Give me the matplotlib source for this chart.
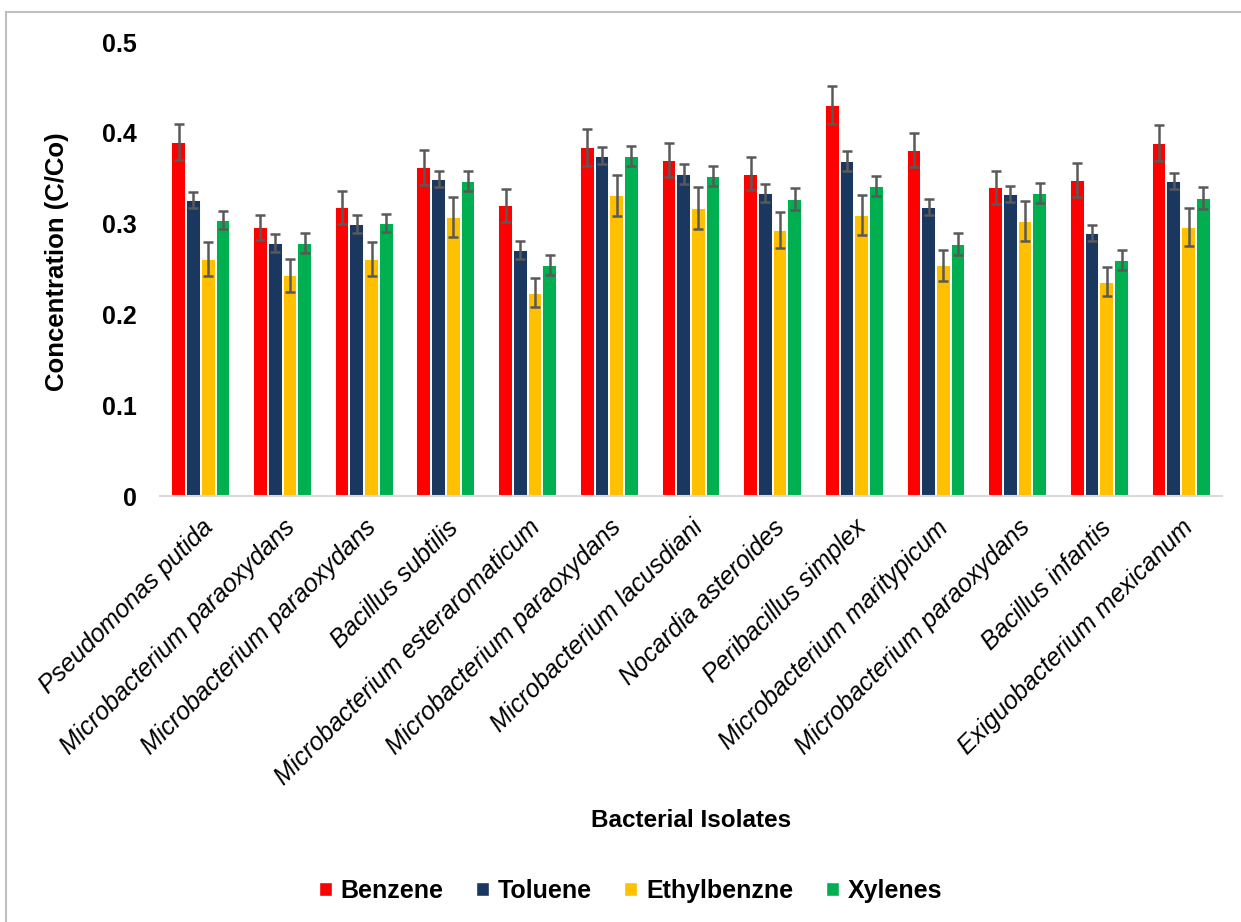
import matplotlib
matplotlib.use("Agg")
import matplotlib.pyplot as plt
import numpy as np
from matplotlib.lines import Line2D

isolates = [
    "Pseudomonas putida",
    "Microbacterium paraoxydans",
    "Microbacterium paraoxydans",
    "Bacillus subtilis",
    "Microbacterium esteraromaticum",
    "Microbacterium paraoxydans",
    "Microbacterium lacusdiani",
    "Nocardia asteroides",
    "Peribacillus simplex",
    "Microbacterium maritypicum",
    "Microbacterium paraoxydans",
    "Bacillus infantis",
    "Exiguobacterium mexicanum",
]

series_names = ["Benzene", "Toluene", "Ethylbenzne", "Xylenes"]

benzene = [0.390, 0.296, 0.318, 0.362, 0.320, 0.384, 0.370, 0.355, 0.431, 0.381, 0.340, 0.348, 0.389]
toluene = [0.326, 0.279, 0.300, 0.349, 0.271, 0.375, 0.355, 0.334, 0.369, 0.318, 0.333, 0.290, 0.347]
ethylbenzne = [0.261, 0.243, 0.261, 0.307, 0.224, 0.331, 0.317, 0.293, 0.309, 0.254, 0.303, 0.236, 0.296]
xylenes = [0.304, 0.279, 0.301, 0.347, 0.254, 0.375, 0.352, 0.327, 0.341, 0.278, 0.334, 0.260, 0.328]

benzene_err = [0.020, 0.014, 0.018, 0.019, 0.018, 0.020, 0.019, 0.018, 0.021, 0.019, 0.018, 0.019, 0.020]
toluene_err = [0.009, 0.010, 0.010, 0.009, 0.010, 0.009, 0.011, 0.010, 0.011, 0.009, 0.009, 0.009, 0.009]
ethylbenzne_err = [0.019, 0.018, 0.019, 0.022, 0.016, 0.023, 0.023, 0.020, 0.022, 0.017, 0.022, 0.016, 0.021]
xylenes_err = [0.010, 0.011, 0.010, 0.011, 0.011, 0.011, 0.011, 0.012, 0.011, 0.012, 0.011, 0.011, 0.012]

colors = ["#FF0000", "#1A375F", "#FFC000", "#00B050"]

values = [benzene, toluene, ethylbenzne, xylenes]
errors = [benzene_err, toluene_err, ethylbenzne_err, xylenes_err]

plt.rcParams["font.family"] = ["Liberation Sans", "DejaVu Sans"]

fig = plt.figure(figsize=(12.41, 9.22), dpi=100)
ax = fig.add_axes([0.1289, 0.462, 0.8558, 0.4924])

x = np.arange(len(isolates))
pitch = 0.18
for k, (vals, errs) in enumerate(zip(values, errors)):
    pos = x + (k - 1.5) * pitch
    ax.bar(pos, vals, width=pitch, color=colors[k], edgecolor="white",
           linewidth=1.4, label=series_names[k], zorder=2)
    ax.errorbar(pos, vals, yerr=errs, fmt="none", ecolor="#595959",
                elinewidth=1.8, capsize=3.4, capthick=1.8, zorder=3)

ax.set_xlim(-0.5, len(isolates) - 0.5)
ax.set_ylim(0, 0.5)
ax.set_yticks([0, 0.1, 0.2, 0.3, 0.4, 0.5])
ax.set_yticklabels(["0", "0.1", "0.2", "0.3", "0.4", "0.5"],
                   fontsize=18, fontweight="bold")
ax.tick_params(axis="y", length=0, pad=16.5)
ax.tick_params(axis="x", length=0, pad=14)
ax.set_xticks(x)
ax.set_xticklabels(isolates, rotation=45, ha="right", va="top",
                   rotation_mode="anchor", fontsize=18, fontstyle="italic")

for side in ["top", "right", "left"]:
    ax.spines[side].set_visible(False)
ax.spines["bottom"].set_color("#D9D9D9")
ax.spines["bottom"].set_linewidth(1.5)

fig.text(0.046, 0.716, "Concentration (C/Co)", rotation=90, ha="center",
         va="center", fontsize=18.5, fontweight="bold")
fig.text(0.557, 0.1106, "Bacterial Isolates", ha="center", va="center",
         fontsize=17.5, fontweight="bold")

handles = [plt.Rectangle((0, 0), 1, 1, facecolor=c, edgecolor="white")
           for c in colors]
fig.legend(handles, series_names, loc="center", bbox_to_anchor=(0.508, 0.034),
           ncol=4, frameon=False, handlelength=0.52, handleheight=0.52,
           handletextpad=0.35, columnspacing=1.3,
           prop={"size": 18, "weight": "bold"})

# chart frame
fig.add_artist(Line2D([0.0048, 1.0], [0.987, 0.987], transform=fig.transFigure,
                      color="#BFBFBF", linewidth=1.5))
fig.add_artist(Line2D([0.0048, 0.0048], [0.0, 0.987], transform=fig.transFigure,
                      color="#BFBFBF", linewidth=1.5))

fig.savefig("out.png", dpi=100, facecolor="white")
